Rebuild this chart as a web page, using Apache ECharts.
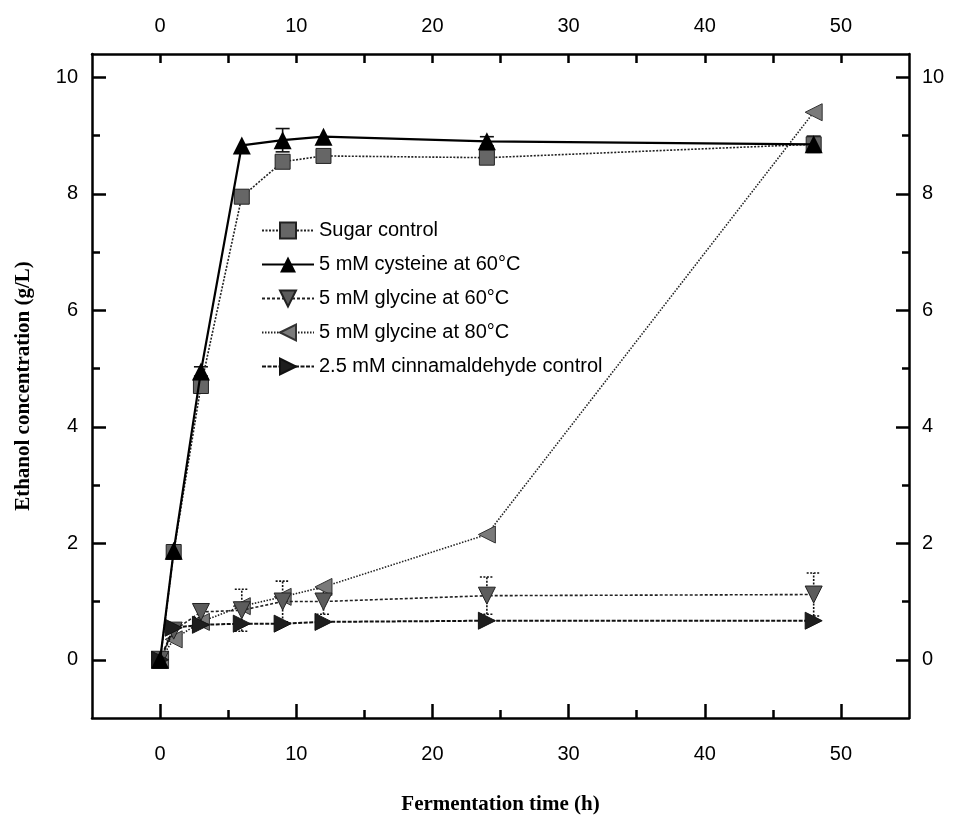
<!DOCTYPE html>
<html>
<head>
<meta charset="utf-8">
<script src="https://cdn.jsdelivr.net/npm/echarts@6/dist/echarts.min.js"></script>
<style>
  html, body { margin: 0; padding: 0; background: #fff; }
  #chart { width: 957px; height: 821px; }
</style>
</head>
<body>
<div id="chart"></div>
<script>
// 数据
const times = [0, 1, 3, 6, 9, 12, 24, 48];
const sugarControl = [-0.02, 1.85, 4.7, 7.95, 8.55, 8.65, 8.62, 8.85];
const sugarControlErr = [0, 0, 0.1, 0.05, 0.1, 0.05, 0.08, 0.05];
const cysteine60 = [0, 1.87, 4.95, 8.83, 8.92, 8.98, 8.9, 8.85];
const cysteine60Err = [0, 0.04, 0.08, 0.05, 0.2, 0.05, 0.08, 0.14];
const glycine60 = [0, 0.5, 0.82, 0.85, 1.0, 1.0, 1.1, 1.12];
const glycine60Err = [0, 0.05, 0.1, 0.36, 0.35, 0.22, 0.32, 0.37];
const glycine80 = [0, 0.35, 0.65, 0.92, 1.08, 1.25, 2.15, 9.4];
const cinnamaldehyde = [0, 0.55, 0.6, 0.62, 0.62, 0.65, 0.67, 0.67];
const seriesNames = [
  'Sugar control',
  '5 mM cysteine at 60°C',
  '5 mM glycine at 60°C',
  '5 mM glycine at 80°C',
  '2.5 mM cinnamaldehyde control'
];

// 刻度
const xMajorTicks = [0, 10, 20, 30, 40, 50];
const xMinorTicks = [5, 15, 25, 35, 45];
const yMajorTicks = [0, 2, 4, 6, 8, 10];
const yMinorTicks = [1, 3, 5, 7, 9];

const pairs = (ys) => times.map((t, i) => [t, ys[i]]);
const errPairs = (ys, es) => times
  .map((t, i) => [t, ys[i] - es[i], ys[i] + es[i]])
  .filter(d => d[2] - d[1] > 0.15);

const chart = echarts.init(document.getElementById('chart'));
const font = "'Liberation Sans', Arial, sans-serif";
const serif = "'Liberation Serif', 'DejaVu Serif', serif";

const axisLine = { show: true, onZero: false, lineStyle: { color: '#000', width: 2.5 } };
const noLine = { show: false, onZero: false };
const tickStyle = { color: '#000', width: 2.5 };
const labelStyle = { color: '#000', fontSize: 20, fontFamily: font };

// 误差线
function errorSeries(ys, es, dashed) {
  return {
    type: 'custom',
    z: 1,
    silent: true,
    data: errPairs(ys, es),
    renderItem: (params, api) => {
      const x = api.value(0);
      const lo = api.coord([x, api.value(1)]);
      const hi = api.coord([x, api.value(2)]);
      const style = { stroke: '#111', lineWidth: 1.6, lineDash: dashed ? [2, 1.5] : null };
      return {
        type: 'group',
        children: [
          { type: 'line', shape: { x1: lo[0], y1: lo[1], x2: hi[0], y2: hi[1] }, style },
          { type: 'line', shape: { x1: hi[0] - 7, y1: hi[1], x2: hi[0] + 7, y2: hi[1] }, style },
          { type: 'line', shape: { x1: lo[0] - 7, y1: lo[1], x2: lo[0] + 7, y2: lo[1] }, style }
        ]
      };
    }
  };
}

const option = {
  animation: false,
  backgroundColor: '#fff',
  grid: { left: 92, right: 48, top: 54, bottom: 103, show: false },
  legend: {
    orient: 'vertical',
    left: 256,
    top: 215,
    itemWidth: 52,
    itemHeight: 20,
    itemGap: 13,
    textStyle: { color: '#000', fontSize: 20, fontFamily: font, lineHeight: 21 },
    data: seriesNames
  },
  xAxis: [
    {
      type: 'value', min: -5, max: 55, position: 'bottom',
      name: 'Fermentation time (h)', nameLocation: 'middle', nameGap: 76,
      nameTextStyle: { color: '#000', fontSize: 21, fontWeight: 'bold', fontFamily: serif },
      axisLine,
      axisTick: { inside: true, length: 14, lineStyle: tickStyle, customValues: xMajorTicks },
      axisLabel: { ...labelStyle, margin: 26, customValues: xMajorTicks },
      splitLine: { show: false }
    },
    {
      type: 'value', min: -5, max: 55, position: 'bottom',
      axisLine: noLine,
      axisTick: { inside: true, length: 8, lineStyle: tickStyle, customValues: xMinorTicks },
      axisLabel: { show: false },
      splitLine: { show: false }
    },
    {
      type: 'value', min: -5, max: 55, position: 'top',
      axisLine,
      axisTick: { inside: true, length: 9, lineStyle: tickStyle, customValues: xMajorTicks },
      axisLabel: { ...labelStyle, margin: 18, customValues: xMajorTicks },
      splitLine: { show: false }
    },
    {
      type: 'value', min: -5, max: 55, position: 'top',
      axisLine: noLine,
      axisTick: { inside: true, length: 9, lineStyle: tickStyle, customValues: xMinorTicks },
      axisLabel: { show: false },
      splitLine: { show: false }
    }
  ],
  yAxis: [
    {
      type: 'value', min: -1, max: 10.4, position: 'left',
      name: 'Ethanol concentration (g/L)', nameLocation: 'middle', nameGap: 58,
      nameTextStyle: { color: '#000', fontSize: 21, fontWeight: 'bold', fontFamily: serif },
      axisLine,
      axisTick: { inside: true, length: 14, lineStyle: tickStyle, customValues: yMajorTicks },
      axisLabel: { ...labelStyle, margin: 14, customValues: yMajorTicks },
      splitLine: { show: false }
    },
    {
      type: 'value', min: -1, max: 10.4, position: 'left',
      axisLine: noLine,
      axisTick: { inside: true, length: 8, lineStyle: tickStyle, customValues: yMinorTicks },
      axisLabel: { show: false },
      splitLine: { show: false }
    },
    {
      type: 'value', min: -1, max: 10.4, position: 'right',
      axisLine,
      axisTick: { inside: true, length: 13, lineStyle: tickStyle, customValues: yMajorTicks },
      axisLabel: { ...labelStyle, margin: 13, customValues: yMajorTicks },
      splitLine: { show: false }
    },
    {
      type: 'value', min: -1, max: 10.4, position: 'right',
      axisLine: noLine,
      axisTick: { inside: true, length: 7, lineStyle: tickStyle, customValues: yMinorTicks },
      axisLabel: { show: false },
      splitLine: { show: false }
    }
  ],
  series: [
    errorSeries(sugarControl, sugarControlErr, false),
    errorSeries(cysteine60, cysteine60Err, false),
    errorSeries(glycine60, glycine60Err, true),
    {
      name: seriesNames[0], type: 'line', data: pairs(sugarControl), z: 3,
      symbol: 'rect', symbolSize: 15,
      lineStyle: { color: '#222', width: 1.6, type: [2, 1.5] },
      itemStyle: { color: '#666', borderColor: '#222', borderWidth: 1 }
    },
    {
      name: seriesNames[1], type: 'line', data: pairs(cysteine60), z: 5,
      symbol: 'triangle', symbolSize: 18,
      lineStyle: { color: '#000', width: 2.2 },
      itemStyle: { color: '#000', borderColor: '#000', borderWidth: 0 }
    },
    {
      name: seriesNames[2], type: 'line', data: pairs(glycine60), z: 4,
      symbol: 'triangle', symbolSize: 17, symbolRotate: 180,
      lineStyle: { color: '#222', width: 1.6, type: [3, 2] },
      itemStyle: { color: '#5c5c5c', borderColor: '#222', borderWidth: 1 }
    },
    {
      name: seriesNames[3], type: 'line', data: pairs(glycine80), z: 3,
      symbol: 'triangle', symbolSize: 17, symbolRotate: 90,
      lineStyle: { color: '#222', width: 1.6, type: [1.5, 1.5] },
      itemStyle: { color: '#7a7a7a', borderColor: '#333', borderWidth: 1 }
    },
    {
      name: seriesNames[4], type: 'line', data: pairs(cinnamaldehyde), z: 4,
      symbol: 'triangle', symbolSize: 17, symbolRotate: -90,
      lineStyle: { color: '#111', width: 2, type: [4, 1.5] },
      itemStyle: { color: '#1e1e1e', borderColor: '#111', borderWidth: 1 }
    }
  ]
};

chart.setOption(option);
</script>
</body>
</html>
